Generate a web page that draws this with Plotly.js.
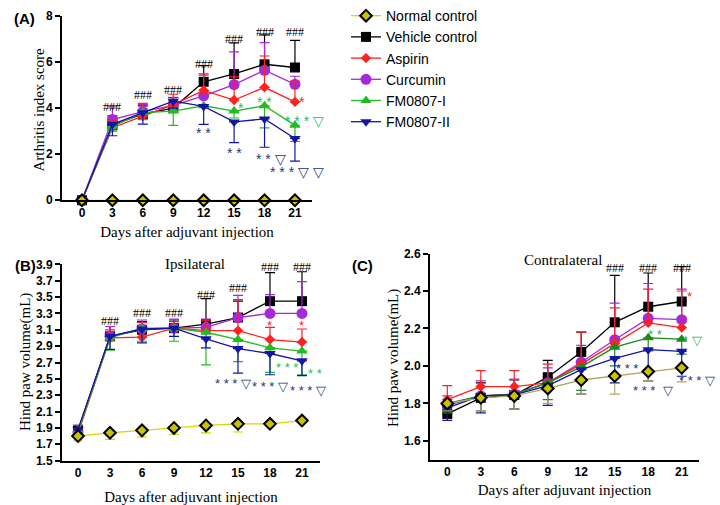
<!DOCTYPE html>
<html>
<head>
<meta charset="utf-8">
<script src="https://cdn.plot.ly/plotly-3.0.1.min.js"></script>
<style>html,body{margin:0;padding:0;background:#fff}#chart{width:720px;height:505px}</style>
</head>
<body>
<div id="chart"></div>
<script>
// ---- data ----
const days = [0, 3, 6, 9, 12, 15, 18, 21];
const dayTicks = ["0", "3", "6", "9", "12", "15", "18", "21"];
const groups = ["Normal control", "Vehicle control", "Aspirin", "Curcumin", "FM0807-I", "FM0807-II"];

// Panel A: arthritis index score
const normalA   = [0, 0, 0, 0, 0, 0, 0, 0];
const vehicleA  = [0, 3.26, 3.75, 4.00, 5.14, 5.48, 5.90, 5.76];
const aspirinA  = [0, 3.15, 3.65, 4.15, 4.77, 4.35, 4.90, 4.27];
const curcuminA = [0, 3.50, 3.85, 4.12, 4.53, 5.02, 5.64, 5.03];
const fm1A      = [0, 3.20, 3.80, 3.87, 4.10, 3.87, 4.10, 3.25];
const fm2A      = [0, 3.30, 3.80, 4.30, 4.07, 3.40, 3.53, 2.68];
const normalAErr   = [0, 0, 0, 0, 0, 0, 0, 0];
const vehicleAErr  = [0, 0.40, 0.35, 0.45, 0.70, 1.35, 1.28, 1.18];
const aspirinAErr  = [0, 0.30, 0.55, 0.45, 0.71, 1.00, 1.36, 0.90];
const curcuminAErr = [0, 0.55, 0.30, 0.35, 0.90, 1.42, 1.20, 0.35];
const fm1AErr      = [0, 0.20, 0.30, 0.62, 0.00, 0.30, 0.96, 0.70];
const fm2AErr      = [0, 0.50, 0.50, 0.30, 0.78, 0.90, 1.23, 0.98];

// Panel B: ipsilateral hind paw volume (mL)
const normalB   = [1.80, 1.84, 1.87, 1.90, 1.93, 1.95, 1.95, 1.99];
const vehicleB  = [1.87, 3.02, 3.10, 3.12, 3.17, 3.25, 3.45, 3.45];
const aspirinB  = [1.83, 3.00, 3.01, 3.12, 3.09, 3.09, 2.98, 2.95];
const curcuminB = [1.85, 3.02, 3.11, 3.12, 3.13, 3.25, 3.30, 3.30];
const fm1B      = [1.85, 3.00, 3.12, 3.12, 3.07, 2.98, 2.88, 2.84];
const fm2B      = [1.88, 3.02, 3.11, 3.12, 2.99, 2.87, 2.81, 2.72];
const normalBErr   = [0.06, 0.08, 0.08, 0.08, 0.09, 0.10, 0.00, 0.00];
const vehicleBErr  = [0.06, 0.12, 0.10, 0.10, 0.31, 0.20, 0.35, 0.36];
const aspirinBErr  = [0.05, 0.10, 0.18, 0.08, 0.12, 0.38, 0.15, 0.16];
const curcuminBErr = [0.08, 0.12, 0.11, 0.11, 0.10, 0.27, 0.23, 0.39];
const fm1BErr      = [0.05, 0.15, 0.16, 0.16, 0.40, 0.27, 0.30, 0.29];
const fm2BErr      = [0.06, 0.16, 0.17, 0.10, 0.11, 0.30, 0.26, 0.18];

// Panel C: contralateral hind paw volume (mL)
const normalC   = [1.80, 1.83, 1.84, 1.88, 1.925, 1.946, 1.97, 1.99];
const vehicleC  = [1.744, 1.83, 1.845, 1.94, 2.075, 2.233, 2.316, 2.344];
const aspirinC  = [1.82, 1.89, 1.89, 1.91, 2.01, 2.12, 2.23, 2.205];
const curcuminC = [1.79, 1.84, 1.85, 1.91, 2.02, 2.14, 2.254, 2.247];
const fm1C      = [1.80, 1.84, 1.85, 1.91, 1.995, 2.10, 2.15, 2.143];
const fm2C      = [1.776, 1.84, 1.846, 1.895, 1.98, 2.04, 2.087, 2.078];
const normalCErr   = [0.04, 0.07, 0.07, 0.08, 0.075, 0.096, 0.05, 0.075];
const vehicleCErr  = [0.05, 0.08, 0.08, 0.09, 0.105, 0.25, 0.18, 0.186];
const aspirinCErr  = [0.075, 0.085, 0.085, 0.10, 0.17, 0.19, 0.18, 0.195];
const curcuminCErr = [0.05, 0.08, 0.08, 0.08, 0.09, 0.195, 0.186, 0.163];
const fm1CErr      = [0.05, 0.08, 0.08, 0.09, 0.125, 0.10, 0.07, 0.08];
const fm2CErr      = [0.066, 0.09, 0.076, 0.105, 0.13, 0.13, 0.167, 0.133];

// significance labels: [x, y, text, colorKey]
const sigA = [
  [3, 4.05, "###", "k"], [6, 4.55, "###", "k"], [9, 4.8, "###", "k"], [12, 5.9, "###", "k"],
  [15, 7.0, "###", "k"], [18, 7.3, "###", "k"], [21, 7.3, "###", "k"],
  [12, 2.9, "* *", "b"], [15, 2.05, "* *", "b"], [18.6, 1.78, "* * ▽", "b"], [21.2, 1.22, "* * * ▽ ▽", "b"],
  [15.7, 4.02, "*", "g"], [18, 4.28, "* *", "g"], [21.9, 3.42, "* * * ▽", "g"], [21.7, 4.25, "*", "r"]
];
const sigB = [
  [3, 3.21, "###", "k"], [6, 3.31, "###", "k"], [9, 3.31, "###", "k"], [12, 3.53, "###", "k"],
  [15, 3.61, "###", "k"], [18, 3.87, "###", "k"], [21, 3.87, "###", "k"],
  [18, 3.15, "*", "r"], [21, 3.15, "*", "r"],
  [14.5, 2.44, "* * * ▽", "b"], [18.0, 2.41, "* * * ▽", "b"], [21.6, 2.36, "* * * ▽", "b"],
  [19.6, 2.635, "* * *", "g"], [22.2, 2.57, "* *", "g"]
];
const sigC = [
  [15, 2.523, "###", "k"], [18, 2.523, "###", "k"], [21, 2.523, "###", "k"],
  [21.7, 2.37, "*", "r"], [18.6, 2.168, "* *", "g2"], [22.0, 2.138, "* ▽", "g2"],
  [16.1, 1.985, "* * *", "b"], [18.4, 1.87, "* * *  ▽", "b"], [22.4, 1.925, "* * * ▽", "b"]
];

// ---- styling ----
const colors = {
  normal: "#d6d600", normalC: "#b8a46a", vehicle: "#000000", aspirin: "#ff2020",
  curcumin: "#a629dc", fm1: "#22bb22", fm1C: "#1a8a1a", fm2: "#1414a8"
};
const sigColors = {k: "#000000", r: "#ff2020", g: "#22c060", g2: "#2fb070", b: "#223a78"};
const tickFont = {family: "Liberation Sans, Arial", size: 12, color: "#000", weight: 700};
const serif = "Liberation Serif, Times New Roman";

const traces = [];
function addPanel(xa, ya, data, showLegend, normalLine, fm1Color) {
  const spec = [
    {name: groups[0], y: data[0], err: data[6], dir: "down", color: normalLine, mcolor: "#c9c200", symbol: "diamond", size: 9, mline: {color: "#000", width: 2}},
    {name: groups[1], y: data[1], err: data[7], dir: "up", color: colors.vehicle, mcolor: "#000", symbol: "square", size: 10, mline: {width: 0}},
    {name: groups[2], y: data[2], err: data[8], dir: "up", color: colors.aspirin, mcolor: colors.aspirin, symbol: "diamond", size: 8, mline: {width: 0}},
    {name: groups[3], y: data[3], err: data[9], dir: "up", color: colors.curcumin, mcolor: colors.curcumin, symbol: "circle", size: 11, mline: {width: 0}},
    {name: groups[4], y: data[4], err: data[10], dir: "down", color: fm1Color, mcolor: fm1Color, symbol: "triangle-up", size: 10, mline: {width: 0}},
    {name: groups[5], y: data[5], err: data[11], dir: "down", color: colors.fm2, mcolor: colors.fm2, symbol: "triangle-down", size: 10, mline: {width: 0}}
  ];
  const order = [1, 3, 2, 4, 5, 0];
  const out = [];
  spec.forEach((s, i) => {
    const zeros = s.err.map(() => 0);
    out[i] = {
      type: "scatter", mode: "lines+markers", x: days, y: s.y, name: s.name,
      xaxis: xa, yaxis: ya, showlegend: showLegend, legendrank: i + 1,
      line: {color: s.color, width: 1.3},
      marker: {symbol: s.symbol, size: s.size, color: s.mcolor, line: s.mline},
      error_y: {type: "data", symmetric: false,
        array: s.dir === "up" ? s.err : zeros,
        arrayminus: s.dir === "down" ? s.err : zeros,
        color: s.color, thickness: 1.2, width: 5},
      cliponaxis: false
    };
  });
  order.forEach(i => traces.push(out[i]));
}
addPanel("x", "y", [normalA, vehicleA, aspirinA, curcuminA, fm1A, fm2A,
  normalAErr, vehicleAErr, aspirinAErr, curcuminAErr, fm1AErr, fm2AErr], true, colors.normal, colors.fm1);
addPanel("x2", "y2", [normalB, vehicleB, aspirinB, curcuminB, fm1B, fm2B,
  normalBErr, vehicleBErr, aspirinBErr, curcuminBErr, fm1BErr, fm2BErr], false, colors.normal, colors.fm1);
addPanel("x3", "y3", [normalC, vehicleC, aspirinC, curcuminC, fm1C, fm2C,
  normalCErr, vehicleCErr, aspirinCErr, curcuminCErr, fm1CErr, fm2CErr], false, colors.normalC, colors.fm1C);

const annotations = [];
function addSig(list, xr, yr, starSize) {
  list.forEach(a => {
    const isHash = a[2] === "###";
    annotations.push({x: a[0], y: a[1], xref: xr, yref: yr, text: a[2], showarrow: false,
      font: {family: isHash ? serif : "Liberation Sans, Arial", size: isHash ? 12 : starSize, color: sigColors[a[3]]},
      xanchor: "center", yanchor: "middle"});
  });
}
addSig(sigA, "x", "y", 14);
addSig(sigB, "x2", "y2", 13);
addSig(sigC, "x3", "y3", 13);
const panelFont = {family: "Liberation Sans, Arial", size: 15, color: "#000", weight: 700};
const titleFont = {family: serif, size: 15, color: "#000"};
function paperText(px, py, text, font, angle) {
  annotations.push({x: px / 720, y: 1 - py / 505, xref: "paper", yref: "paper", text: text, showarrow: false,
    font: font, xanchor: "center", yanchor: "middle", textangle: angle || 0});
}
paperText(24, 12, "(A)", panelFont);
paperText(26, 262, "(B)", panelFont);
paperText(362, 262, "(C)", panelFont);
paperText(39, 104, "Arthritis index score", titleFont, -90);
paperText(25, 360, "Hind paw volume(mL)", titleFont, -90);
paperText(393, 356, "Hind paw volume(mL)", titleFont, -90);
annotations.push({x: 11, y: 3.9, xref: "x2", yref: "y2", text: "Ipsilateral", showarrow: false, font: {family: serif, size: 15, color: "#000"}, yanchor: "middle"});
annotations.push({x: 10.4, y: 2.567, xref: "x3", yref: "y3", text: "Contralateral", showarrow: false, font: {family: serif, size: 15, color: "#000"}, yanchor: "middle"});

function xaxis(domain, range, anchor, standoff) {
  return {domain: domain, range: range, anchor: anchor, tickvals: days, ticktext: dayTicks,
    showgrid: false, zeroline: false, showline: true, linecolor: "#000", linewidth: 2,
    ticks: "", tickfont: tickFont, ticklen: 0,
    title: {text: "Days after adjuvant injection", font: titleFont, standoff: standoff}};
}
function yaxis(domain, range, anchor, dtick, fmt) {
  return {domain: domain, range: range, anchor: anchor, dtick: dtick, tick0: range[0],
    showgrid: false, zeroline: false, showline: true, linecolor: "#000", linewidth: 2,
    ticks: "outside", ticklen: 5, tickwidth: 2, tickcolor: "#000", tickfont: tickFont, tickformat: fmt};
}

const layout = {
  width: 720, height: 505, margin: {l: 0, r: 0, t: 0, b: 0},
  paper_bgcolor: "#fff", plot_bgcolor: "rgba(0,0,0,0)",
  showlegend: true,
  legend: {x: 346 / 720, y: 1 + 7 / 505, xanchor: "left", yanchor: "top", itemwidth: 30,
    font: {family: "Liberation Sans, Arial", size: 14, color: "#000"}, bgcolor: "rgba(0,0,0,0)",
    tracegroupgap: 0, traceorder: "normal"},
  xaxis: xaxis([62 / 720, 312 / 720], [-1.97, 22.68], "y", 8),
  yaxis: yaxis([1 - 196 / 505, 1 - 9 / 505], [0, 8], "x", 2, ""),
  xaxis2: xaxis([62 / 720, 320 / 720], [-1.5, 22.69], "y2", 21),
  yaxis2: yaxis([1 - 460 / 505, 1 - 261 / 505], [1.5, 3.9], "x2", 0.2, ".1f"),
  xaxis3: xaxis([430 / 720, 699 / 720], [-1.55, 22.55], "y3", 6),
  yaxis3: yaxis([1 - 459 / 505, 1 - 250 / 505], [1.5, 2.6], "x3", 0.2, ".1f"),
  annotations: annotations
};
layout.yaxis3.tick0 = 1.6;

Plotly.newPlot("chart", traces, layout, {displayModeBar: false, staticPlot: true});
</script>
</body>
</html>
